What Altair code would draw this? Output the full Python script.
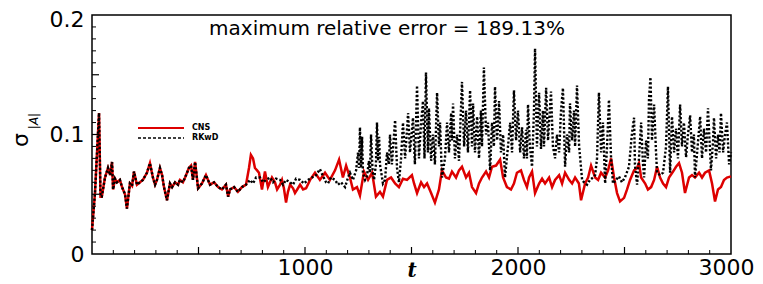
import altair as alt
import pandas as pd

# ---- data ----
# shared early part (both curves coincide)
t_common = [0, 14, 33, 40, 46, 61, 75, 85, 94, 99, 108, 117, 131, 141, 155, 164, 178, 188, 197, 211,
            225, 239, 258, 272, 286, 296, 305, 319, 329, 338, 352, 366, 376, 390, 404, 413, 427, 437,
            455, 465, 474, 484, 498, 516, 535, 554, 573, 592, 610, 629, 639, 648, 667, 685, 704, 723]
s_common = [0.020, 0.051, 0.118, 0.048, 0.048, 0.064, 0.072, 0.066, 0.077, 0.054, 0.063, 0.060, 0.062,
            0.056, 0.050, 0.038, 0.059, 0.057, 0.069, 0.058, 0.060, 0.062, 0.068, 0.076, 0.064, 0.058,
            0.062, 0.072, 0.066, 0.056, 0.045, 0.059, 0.056, 0.060, 0.058, 0.062, 0.060, 0.064, 0.072,
            0.074, 0.062, 0.077, 0.055, 0.059, 0.066, 0.058, 0.060, 0.056, 0.054, 0.058, 0.048, 0.054,
            0.056, 0.052, 0.056, 0.058]

t_cns_tail = [737, 746, 756, 765, 775, 784, 798, 812, 826, 845, 859, 869, 883, 892, 901, 911, 920, 930,
              944, 953, 967, 977, 991, 1005, 1024, 1047, 1070, 1094, 1117, 1141, 1160, 1178, 1193, 1211,
              1225, 1244, 1258, 1277, 1296, 1315, 1333, 1352, 1366, 1385, 1404, 1423, 1441, 1460, 1479,
              1502, 1512, 1526, 1545, 1559, 1573, 1592, 1610, 1629, 1643, 1662, 1676, 1690, 1709, 1723,
              1737, 1756, 1770, 1784, 1803, 1817, 1831, 1850, 1864, 1878, 1897, 1916, 1930, 1948, 1967,
              1981, 1995, 2014, 2028, 2042, 2052, 2066, 2080, 2099, 2113, 2127, 2146, 2160, 2174, 2193,
              2207, 2221, 2240, 2254, 2268, 2286, 2296, 2315, 2329, 2343, 2362, 2376, 2390, 2409, 2423,
              2437, 2451, 2465, 2479, 2498, 2512, 2526, 2545, 2559, 2568, 2578, 2597, 2610, 2625, 2639,
              2653, 2667, 2681, 2695, 2709, 2728, 2742, 2756, 2770, 2784, 2803, 2817, 2831, 2850, 2864,
              2878, 2897, 2911, 2925, 2939, 2953, 2967, 2981, 3000]
s_cns_tail = [0.072, 0.083, 0.080, 0.072, 0.070, 0.068, 0.054, 0.069, 0.056, 0.064, 0.060, 0.054, 0.058,
              0.062, 0.055, 0.043, 0.052, 0.058, 0.055, 0.051, 0.055, 0.058, 0.054, 0.055, 0.062, 0.068,
              0.062, 0.068, 0.062, 0.070, 0.079, 0.064, 0.074, 0.064, 0.054, 0.056, 0.049, 0.069, 0.062,
              0.068, 0.048, 0.052, 0.048, 0.062, 0.064, 0.059, 0.056, 0.063, 0.062, 0.066, 0.059, 0.051,
              0.060, 0.056, 0.059, 0.051, 0.043, 0.054, 0.070, 0.064, 0.063, 0.069, 0.064, 0.070, 0.073,
              0.064, 0.068, 0.056, 0.051, 0.059, 0.064, 0.069, 0.064, 0.073, 0.074, 0.079, 0.064, 0.056,
              0.054, 0.059, 0.068, 0.070, 0.062, 0.056, 0.064, 0.069, 0.051, 0.059, 0.063, 0.059, 0.064,
              0.056, 0.062, 0.066, 0.059, 0.068, 0.062, 0.059, 0.064, 0.059, 0.045, 0.059, 0.064, 0.074,
              0.064, 0.062, 0.068, 0.064, 0.070, 0.080, 0.064, 0.051, 0.044, 0.047, 0.054, 0.062, 0.070,
              0.072, 0.076, 0.064, 0.059, 0.054, 0.056, 0.062, 0.073, 0.064, 0.059, 0.056, 0.064, 0.069,
              0.073, 0.076, 0.068, 0.051, 0.064, 0.066, 0.064, 0.068, 0.064, 0.068, 0.070, 0.059, 0.044,
              0.054, 0.056, 0.062, 0.064, 0.065]

t_rkwd_tail = [742, 756, 770, 789, 803, 817, 836, 850, 864, 883, 897, 911, 930, 944, 958, 977, 995, 1014,
               1033, 1052, 1070, 1085, 1099, 1108, 1122, 1141, 1155, 1169, 1188, 1202, 1211, 1225, 1240,
               1249, 1254, 1258, 1263, 1268, 1272, 1282, 1291, 1300, 1305, 1310, 1317, 1324, 1333, 1338,
               1343, 1348, 1352, 1366, 1376, 1385, 1394, 1399, 1408, 1416, 1423, 1432, 1441, 1451, 1460,
               1470, 1484, 1493, 1507, 1516, 1526, 1535, 1545, 1554, 1561, 1568, 1577, 1582, 1592, 1601,
               1610, 1620, 1629, 1634, 1643, 1657, 1667, 1676, 1686, 1690, 1695, 1704, 1714, 1723, 1737,
               1747, 1756, 1765, 1775, 1784, 1789, 1798, 1808, 1817, 1826, 1831, 1840, 1850, 1859, 1869,
               1878, 1887, 1892, 1902, 1911, 1920, 1930, 1939, 1953, 1963, 1972, 1981, 1991, 2000, 2010,
               2019, 2028, 2038, 2042, 2047, 2056, 2066, 2075, 2080, 2089, 2099, 2108, 2117, 2122, 2132,
               2141, 2155, 2164, 2174, 2183, 2193, 2202, 2211, 2221, 2230, 2240, 2244, 2254, 2263, 2268,
               2277, 2287, 2301, 2310, 2324, 2338, 2352, 2362, 2371, 2380, 2390, 2399, 2409, 2418, 2427,
               2437, 2446, 2460, 2474, 2488, 2502, 2521, 2535, 2545, 2549, 2559, 2568, 2578, 2587, 2592,
               2601, 2610, 2615, 2622, 2629, 2639, 2648, 2653, 2667, 2681, 2695, 2704, 2714, 2723, 2733,
               2742, 2751, 2761, 2770, 2779, 2789, 2798, 2808, 2817, 2826, 2831, 2841, 2855, 2864, 2873,
               2883, 2892, 2902, 2906, 2916, 2920, 2930, 2939, 2946, 2953, 2963, 2972, 2981, 2991, 3000]
s_rkwd_tail = [0.062, 0.059, 0.064, 0.064, 0.060, 0.062, 0.064, 0.060, 0.063, 0.062, 0.058, 0.062, 0.060,
               0.058, 0.063, 0.062, 0.059, 0.062, 0.064, 0.066, 0.071, 0.065, 0.060, 0.059, 0.064, 0.062,
               0.058, 0.060, 0.056, 0.064, 0.068, 0.062, 0.070, 0.085, 0.072, 0.106, 0.072, 0.098, 0.068,
               0.062, 0.065, 0.078, 0.068, 0.100, 0.070, 0.062, 0.075, 0.110, 0.078, 0.098, 0.075, 0.059,
               0.062, 0.085, 0.075, 0.100, 0.075, 0.095, 0.112, 0.072, 0.060, 0.080, 0.110, 0.080, 0.118,
               0.085, 0.114, 0.075, 0.141, 0.080, 0.110, 0.128, 0.080, 0.152, 0.085, 0.122, 0.078, 0.100,
               0.075, 0.135, 0.090, 0.110, 0.064, 0.080, 0.110, 0.085, 0.118, 0.095, 0.126, 0.080, 0.100,
               0.078, 0.144, 0.090, 0.120, 0.085, 0.137, 0.090, 0.126, 0.085, 0.115, 0.080, 0.120, 0.090,
               0.156, 0.100, 0.110, 0.070, 0.110, 0.090, 0.140, 0.095, 0.128, 0.085, 0.100, 0.064, 0.090,
               0.110, 0.085, 0.137, 0.095, 0.120, 0.085, 0.106, 0.080, 0.104, 0.080, 0.125, 0.090, 0.073,
               0.120, 0.172, 0.090, 0.135, 0.088, 0.120, 0.090, 0.139, 0.095, 0.136, 0.090, 0.080, 0.100,
               0.085, 0.120, 0.139, 0.073, 0.100, 0.085, 0.126, 0.095, 0.120, 0.090, 0.141, 0.090, 0.062,
               0.060, 0.058, 0.062, 0.064, 0.066, 0.080, 0.135, 0.085, 0.110, 0.059, 0.090, 0.129, 0.080,
               0.059, 0.062, 0.065, 0.060, 0.064, 0.073, 0.101, 0.114, 0.075, 0.058, 0.080, 0.110, 0.075,
               0.064, 0.095, 0.080, 0.130, 0.148, 0.095, 0.125, 0.085, 0.068, 0.066, 0.068, 0.090, 0.140,
               0.068, 0.115, 0.085, 0.105, 0.080, 0.125, 0.090, 0.110, 0.081, 0.100, 0.116, 0.085, 0.100,
               0.064, 0.085, 0.115, 0.080, 0.105, 0.085, 0.122, 0.085, 0.070, 0.095, 0.114, 0.080, 0.100,
               0.085, 0.118, 0.085, 0.100, 0.110, 0.075, 0.085]

x_tick_labels = [1000, 2000, 3000]
y_tick_labels = [0, 0.1, 0.2]
x_minor_ticks = [v for v in range(100, 3000, 100) if v % 500 != 0]
x_major_ticks = [500, 1000, 1500, 2000, 2500]
y_minor_ticks = [i / 100 for i in range(1, 20) if i % 5 != 0]
y_major_ticks = [0.05, 0.1, 0.15]

title_text = "maximum relative error = 189.13%"
series_names = ["CNS", "RKwD"]

# ---- build tables ----
cns = pd.DataFrame({"t": t_common + t_cns_tail, "s": s_common + s_cns_tail})
rkwd = pd.DataFrame({"t": t_common + t_rkwd_tail, "s": s_common + s_rkwd_tail})

FONT = "DejaVu Sans"
xs = alt.Scale(domain=[0, 3000], nice=False, zero=False)
ys = alt.Scale(domain=[0, 0.2], nice=False, zero=False)

x_enc = alt.X("t:Q", scale=xs, axis=alt.Axis(
    values=x_tick_labels, ticks=False, tickSize=0, domain=False, grid=False, title=None,
    labelFont=FONT, labelFontSize=22, labelColor="black", labelPadding=3,
    labelFlush=False, labelOverlap=False,
    labelExpr="format(datum.value, 'd')",
    labelOffset={"condition": {"test": "datum.value == 3000", "value": -5}, "value": 0}))
y_enc = alt.Y("s:Q", scale=ys, axis=alt.Axis(
    values=y_tick_labels, ticks=False, tickSize=0, domain=False, grid=False, title=None,
    labelFont=FONT, labelFontSize=22, labelColor="black", labelPadding=8,
    labelFlush=False, labelOverlap=False,
    labelExpr="datum.value == 0 ? '0' : format(datum.value, '.1f')",
    labelOffset={"condition": {"test": "datum.value > 0.15", "value": 4}, "value": 0}))

red_line = alt.Chart(cns).mark_line(color="#dd0000", strokeWidth=2.5).encode(x=x_enc, y=y_enc)
black_line = alt.Chart(rkwd).mark_line(color="black", strokeWidth=2.4, strokeDash=[2.2, 2]).encode(
    x="t:Q", y="s:Q")

xt_minor = alt.Chart(pd.DataFrame({"t": x_minor_ticks})).mark_rule(color="black", strokeWidth=1).encode(
    x="t:Q", y=alt.value(239), y2=alt.value(235))
xt_major = alt.Chart(pd.DataFrame({"t": x_major_ticks})).mark_rule(color="black", strokeWidth=1.2).encode(
    x="t:Q", y=alt.value(239), y2=alt.value(232))
yt_minor = alt.Chart(pd.DataFrame({"s": y_minor_ticks})).mark_rule(color="black", strokeWidth=1).encode(
    y="s:Q", x=alt.value(0), x2=alt.value(4))
yt_major = alt.Chart(pd.DataFrame({"s": y_major_ticks})).mark_rule(color="black", strokeWidth=1.2).encode(
    y="s:Q", x=alt.value(0), x2=alt.value(7))

one = alt.Data(values=[{"k": 1}])
leg_red = alt.Chart(one).mark_rule(color="#dd0000", strokeWidth=2).encode(
    x=alt.value(46), x2=alt.value(92), y=alt.value(113))
leg_black = alt.Chart(one).mark_rule(color="black", strokeWidth=1.6, strokeDash=[3, 2]).encode(
    x=alt.value(46), x2=alt.value(92), y=alt.value(123))
leg_t1 = alt.Chart(one).mark_text(text=series_names[0], font=FONT, fontSize=8, fontWeight="bold",
                                  align="left", baseline="middle").encode(x=alt.value(100), y=alt.value(113))
leg_t2 = alt.Chart(one).mark_text(text=series_names[1], font=FONT, fontSize=8, fontWeight="bold",
                                  align="left", baseline="middle").encode(x=alt.value(100), y=alt.value(123))

title = alt.Chart(one).mark_text(text=title_text, font=FONT, fontSize=20, align="center",
                                 baseline="alphabetic", color="black").encode(x=alt.value(295), y=alt.value(20))
ylab = alt.Chart(one).mark_text(text="σ", font=FONT, fontSize=22, angle=270, align="center",
                                baseline="middle", color="black").encode(x=alt.value(-71), y=alt.value(125))
ylab_sub = alt.Chart(one).mark_text(text="|A|", font=FONT, fontSize=12, fontStyle="italic", angle=270,
                                    align="center", baseline="middle", color="black").encode(
    x=alt.value(-58), y=alt.value(106))
xlab = alt.Chart(one).mark_text(text="t", font="DejaVu Serif", fontSize=20, fontStyle="italic",
                                fontWeight="bold", align="center", baseline="middle", color="black").encode(
    x=alt.value(320), y=alt.value(256))

chart = alt.layer(
    red_line, black_line, xt_minor, xt_major, yt_minor, yt_major,
    leg_red, leg_black, leg_t1, leg_t2, title, ylab, ylab_sub, xlab
).properties(
    width=639, height=239,
    autosize=alt.AutoSizeParams(type="none"),
    padding={"left": 84, "top": 7, "right": 24, "bottom": 30},
).configure_view(stroke="black", strokeWidth=1.5)

chart.save("out.html", embed_options={"renderer": "svg", "actions": False})
